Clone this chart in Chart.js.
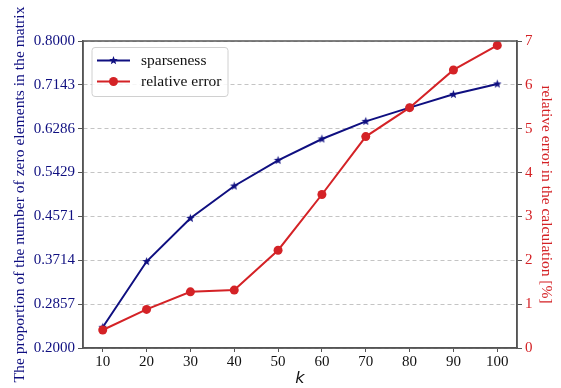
<!DOCTYPE html>
<html>
<head>
<meta charset="utf-8">
<script src="https://cdn.jsdelivr.net/npm/chart.js@4.4.1/dist/chart.umd.min.js"></script>
<style>
  body { margin: 0; background: #fff; }
  canvas { display: block; }
</style>
</head>
<body>
<canvas id="grafico" width="561" height="388"></canvas>
<script>
const kValues = [10, 20, 30, 40, 50, 60, 70, 80, 90, 100];
const sparseness = [0.2405, 0.369, 0.4535, 0.5166, 0.5668, 0.6085, 0.643, 0.6697, 0.6958, 0.716];
const relError = [0.41, 0.88, 1.28, 1.32, 2.23, 3.50, 4.82, 5.48, 6.34, 6.90];
const leftTicks = [0.2000, 0.2857, 0.3714, 0.4571, 0.5429, 0.6286, 0.7143, 0.8000];
const rightTicks = [0, 1, 2, 3, 4, 5, 6, 7];

const NAVY = '#0f0f80', RED = '#d42226', SPINE = '#555';
const SERIF = "'Liberation Serif', 'Times New Roman', serif";

// little filled 5-point star, like the matplotlib '*' marker
function makeStar(color, r) {
    const c = document.createElement('canvas');
    const s = Math.ceil(r * 2 + 2);
    c.width = s; c.height = s;
    const g = c.getContext('2d');
    g.beginPath();
    for (let i = 0; i < 10; i++) {
        const rr = i % 2 === 0 ? r : r * 0.42;
        const a = -Math.PI / 2 + i * Math.PI / 5;
        const px = s / 2 + rr * Math.cos(a), py = s / 2 + rr * Math.sin(a);
        if (i === 0) g.moveTo(px, py); else g.lineTo(px, py);
    }
    g.closePath();
    g.fillStyle = color;
    g.fill();
    return c;
}
const starImg = makeStar(NAVY, 4.5);

const framePlugin = {
    id: 'frame',
    afterDatasetsDraw(chart) {
        const { ctx, chartArea: a } = chart;
        ctx.save();
        ctx.strokeStyle = SPINE;
        ctx.lineWidth = 1.5;
        ctx.strokeRect(a.left, a.top, a.right - a.left, a.bottom - a.top);
        ctx.restore();
    }
};

const legendPlugin = {
    id: 'boxLegend',
    afterDraw(chart) {
        const ctx = chart.ctx;
        const x = 92, y = 47.5, w = 136, h = 49, r = 3;
        ctx.save();
        ctx.beginPath();
        ctx.moveTo(x + r, y);
        ctx.arcTo(x + w, y, x + w, y + h, r);
        ctx.arcTo(x + w, y + h, x, y + h, r);
        ctx.arcTo(x, y + h, x, y, r);
        ctx.arcTo(x, y, x + w, y, r);
        ctx.closePath();
        ctx.fillStyle = 'rgba(255,255,255,0.85)';
        ctx.fill();
        ctx.strokeStyle = '#d0d0d0';
        ctx.lineWidth = 1;
        ctx.stroke();

        const rows = [
            { label: 'sparseness', color: NAVY, y: 60.5, star: true },
            { label: 'relative error', color: RED, y: 81.5, star: false }
        ];
        ctx.font = '15.5px ' + SERIF;
        ctx.textBaseline = 'middle';
        rows.forEach(row => {
            ctx.strokeStyle = row.color;
            ctx.lineWidth = 2;
            ctx.beginPath();
            ctx.moveTo(97, row.y);
            ctx.lineTo(130, row.y);
            ctx.stroke();
            if (row.star) {
                ctx.drawImage(starImg, 113.5 - starImg.width / 2, row.y - starImg.height / 2);
            } else {
                ctx.fillStyle = row.color;
                ctx.beginPath();
                ctx.arc(113.5, row.y, 4.5, 0, Math.PI * 2);
                ctx.fill();
            }
            ctx.fillStyle = '#111';
            ctx.fillText(row.label, 141, row.y);
        });
        ctx.restore();
    }
};

new Chart(document.getElementById('grafico'), {
    type: 'line',
    data: {
        datasets: [
            {
                label: 'sparseness',
                data: kValues.map((k, i) => ({ x: k, y: sparseness[i] })),
                yAxisID: 'y',
                borderColor: NAVY, backgroundColor: NAVY,
                borderWidth: 2, pointStyle: starImg, pointRadius: 5,
                tension: 0, order: 1
            },
            {
                label: 'relative error',
                data: kValues.map((k, i) => ({ x: k, y: relError[i] })),
                yAxisID: 'y2',
                borderColor: RED, backgroundColor: RED,
                borderWidth: 2, pointStyle: 'circle', pointRadius: 4.5, pointBorderWidth: 0,
                tension: 0, order: 0
            }
        ]
    },
    options: {
        responsive: false, animation: false, devicePixelRatio: 1,
        layout: { padding: { top: 41, left: 0, right: 0, bottom: 0 } },
        plugins: { legend: { display: false }, tooltip: { enabled: false } },
        scales: {
            x: {
                type: 'linear', min: 5.5, max: 104.5,
                afterBuildTicks: s => { s.ticks = kValues.map(v => ({ value: v })); },
                afterFit: s => { s.height = 40; },
                ticks: { autoSkip: false, maxRotation: 0, color: '#111', padding: 1, font: { family: SERIF, size: 15 } },
                grid: { drawOnChartArea: false, drawTicks: true, tickLength: 4, tickColor: SPINE, tickWidth: 1 },
                border: { color: SPINE, width: 1.5 },
                title: { display: true, text: 'k', color: '#111', padding: 0,
                         font: { family: "'DejaVu Sans', sans-serif", size: 16, style: 'italic' } }
            },
            y: {
                type: 'linear', position: 'left', min: 0.2, max: 0.8,
                afterBuildTicks: s => { s.ticks = leftTicks.map(v => ({ value: v })); },
                afterFit: s => { s.width = 83; },
                ticks: { color: NAVY, padding: 3, font: { family: SERIF, size: 15 },
                         callback: v => v.toFixed(4) },
                grid: { color: '#c4c4c4', lineWidth: 1, drawTicks: true, tickLength: 5,
                        tickColor: SPINE, tickWidth: 1, tickBorderDash: [] },
                border: { color: SPINE, width: 1.5, dash: [4, 3] },
                title: { display: true, text: 'The proportion of the number of zero elements in the matrix',
                         color: NAVY, padding: { top: 11, bottom: 0 }, font: { family: SERIF, size: 15.6 } }
            },
            y2: {
                type: 'linear', position: 'right', min: 0, max: 7,
                afterBuildTicks: s => { s.ticks = rightTicks.map(v => ({ value: v })); },
                afterFit: s => { s.width = 44; },
                ticks: { color: RED, padding: 3, font: { family: SERIF, size: 15 } },
                grid: { drawOnChartArea: false, drawTicks: true, tickLength: 5, tickColor: SPINE, tickWidth: 1 },
                border: { color: SPINE, width: 1.5 },
                title: { display: true, text: 'relative error in the calculation [%]',
                         color: RED, padding: { top: 6, bottom: 0 }, font: { family: SERIF, size: 15.5 } }
            }
        }
    },
    plugins: [framePlugin, legendPlugin]
});
</script>
</body>
</html>
